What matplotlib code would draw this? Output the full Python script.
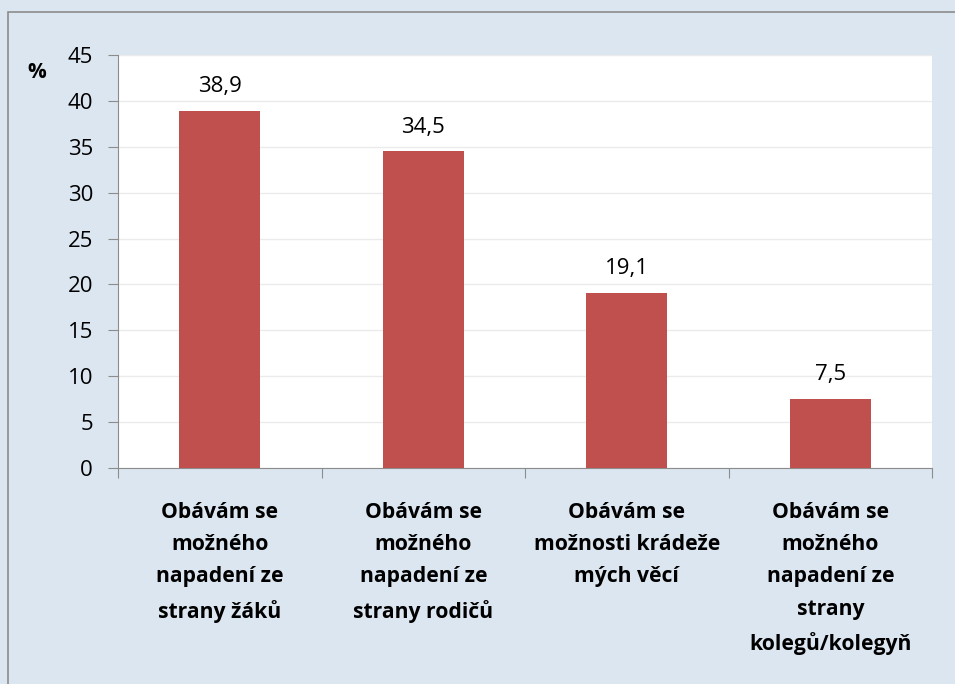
import matplotlib.pyplot as plt
from matplotlib.patches import Rectangle

plt.rcParams['font.family'] = ['Open Sans', 'DejaVu Sans']

# data
categories = [
    "Obávám se\nmožného\nnapadení ze\nstrany žáků",
    "Obávám se\nmožného\nnapadení ze\nstrany rodičů",
    "Obávám se\nmožnosti krádeže\nmých věcí",
    "Obávám se\nmožného\nnapadení ze\nstrany\nkolegů/kolegyň",
]
values = [38.9, 34.5, 19.1, 7.5]
value_labels = ["38,9", "34,5", "19,1", "7,5"]
y_ticks = [0, 5, 10, 15, 20, 25, 30, 35, 40, 45]

bg = '#dce6f1'
bar_color = '#c0504d'

fig = plt.figure(figsize=(9.55, 6.84), dpi=100)
fig.patch.set_facecolor(bg)

# outer frame of the chart area
fig.patches.append(Rectangle((8 / 955, -0.05), 1.1, 1.05 - 12 / 684, transform=fig.transFigure,
                             fill=False, edgecolor='#8c8c8c', linewidth=1.2))

ax = fig.add_axes([118 / 955, 1 - 468 / 684, (932 - 118) / 955, (468 - 55) / 684])
ax.set_facecolor('white')

x = list(range(len(values)))
ax.bar(x, values, width=0.40, color=bar_color, zorder=3)

for xi, v, lbl in zip(x, values, value_labels):
    ax.text(xi, v + 1.5, lbl, ha='center', va='bottom', fontsize=16, color='black')

ax.set_xlim(-0.5, len(values) - 0.5)
ax.set_ylim(0, 45)
ax.set_yticks(y_ticks)
ax.set_yticklabels([str(t) for t in y_ticks], fontsize=16)
ax.yaxis.grid(True, color='#ebebeb', linewidth=1, zorder=0)

ax.set_xticks([i - 0.5 for i in range(len(values) + 1)])
ax.set_xticklabels([])
ax.tick_params(axis='x', direction='out', length=7, color='#8c8c8c')
ax.tick_params(axis='y', direction='out', length=7, color='#8c8c8c', pad=11)

for i, cat in enumerate(categories):
    ax.text(i, -3.7, cat, ha='center', va='top', fontsize=15.2, fontweight='bold',
            linespacing=1.7, color='black')

for side in ['top', 'right']:
    ax.spines[side].set_visible(False)
ax.spines['left'].set_color('#8c8c8c')
ax.spines['bottom'].set_color('#8c8c8c')

fig.text(27 / 955, 1 - 72 / 684, "%", fontsize=15, fontweight='bold', ha='left', va='center')

fig.savefig('out.png', dpi=100, facecolor=bg)
